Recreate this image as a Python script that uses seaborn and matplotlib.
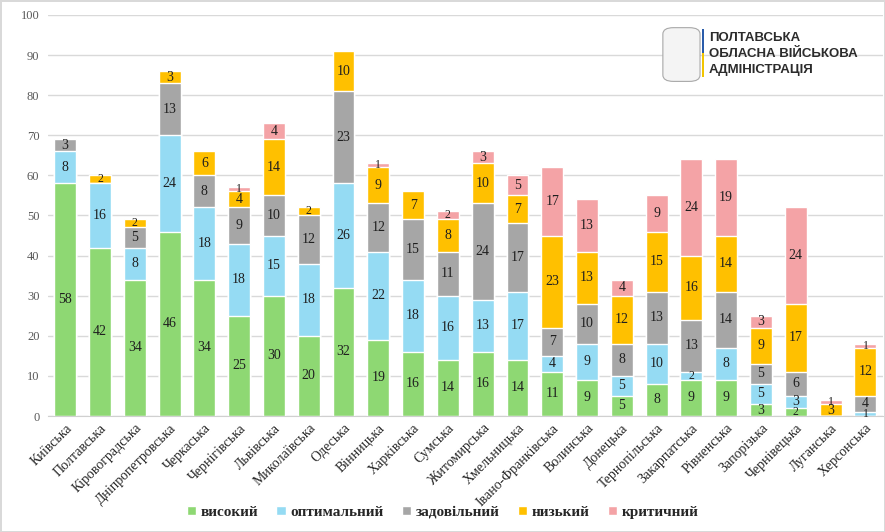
import numpy as np
import pandas as pd
import seaborn as sns
import matplotlib.pyplot as plt
from matplotlib.patches import FancyBboxPatch, Rectangle

regions = ["Київська", "Полтавська", "Кіровоградська", "Дніпропетровська", "Черкаська",
           "Чернігівська", "Львівська", "Миколаївська", "Одеська", "Вінницька",
           "Харківська", "Сумська", "Житомирська", "Хмельницька", "Івано-Франківська",
           "Волинська", "Донецька", "Тернопільська", "Закарпатська", "Рівненська",
           "Запорізька", "Чернівецька", "Луганська", "Херсонська"]

vysokyi = [58, 42, 34, 46, 34, 25, 30, 20, 32, 19, 16, 14, 16, 14, 11, 9, 5, 8, 9, 9, 3, 2, 0, 0]
optymalnyi = [8, 16, 8, 24, 18, 18, 15, 18, 26, 22, 18, 16, 13, 17, 4, 9, 5, 10, 2, 8, 5, 3, 0, 1]
zadovilnyi = [3, 0, 5, 13, 8, 9, 10, 12, 23, 12, 15, 11, 24, 17, 7, 10, 8, 13, 13, 14, 5, 6, 0, 4]
nyzkyi = [0, 2, 2, 3, 6, 4, 14, 2, 10, 9, 7, 8, 10, 7, 23, 13, 12, 15, 16, 14, 9, 17, 3, 12]
krytychnyi = [0, 0, 0, 0, 0, 1, 4, 0, 0, 1, 0, 2, 3, 5, 17, 13, 4, 9, 24, 19, 3, 24, 1, 1]

levels = ["високий", "оптимальний", "задовільний", "низький", "критичний"]
colors = ["#8ed873", "#95dbf3", "#a6a6a6", "#ffc000", "#f4a3a6"]

values = np.array([vysokyi, optymalnyi, zadovilnyi, nyzkyi, krytychnyi])
cum = values.cumsum(axis=0)

fig = plt.figure(figsize=(8.85, 5.32), dpi=100)
sns.set_style("white")
plt.rcParams['font.family'] = ['Liberation Serif', 'DejaVu Serif']
fig.patch.set_edgecolor("#d9d9d9")
fig.patch.set_linewidth(2)

ax = fig.add_axes([0.054, 0.218, 0.9435, 0.754])

# stacked bars: draw the tallest cumulative layer first, then cover it
for i in range(len(levels) - 1, -1, -1):
    df = pd.DataFrame({"region": regions, "value": cum[i]})
    sns.barplot(data=df, x="region", y="value", color=colors[i], width=0.63,
                saturation=1, ax=ax, zorder=2, label=levels[i])
if ax.get_legend() is not None:
    ax.get_legend().remove()

# value labels (thin segments get a slightly smaller number)
for i in range(len(levels)):
    for j in range(len(regions)):
        v = values[i, j]
        if v == 0:
            continue
        ax.text(j, cum[i, j] - v / 2, str(v), ha="center", va="center",
                fontsize=10 if v > 2 else 8.5, color="#1f1f1f", zorder=3)

ax.set_ylim(0, 100)
ax.set_xlim(-0.5, len(regions) - 0.5)
ax.set_yticks(range(0, 101, 10))
ax.yaxis.grid(True, color="#d9d9d9", linewidth=1, zorder=0)
ax.set_axisbelow(True)
ax.set_xlabel("")
ax.set_ylabel("")
for s in ["top", "right", "left"]:
    ax.spines[s].set_visible(False)
ax.spines["bottom"].set_color("#d0d0d0")
ax.tick_params(axis="y", length=0, labelsize=9, labelcolor="#595959", pad=6)
ax.tick_params(axis="x", length=0, labelsize=10, labelcolor="#262626", pad=4)
plt.setp(ax.get_xticklabels(), rotation=45, ha="right", rotation_mode="anchor")

# legend
handles, labels = ax.get_legend_handles_labels()
order = [labels.index(l) for l in levels]
fig.legend([handles[k] for k in order], levels, loc="center", bbox_to_anchor=(0.5, 0.037),
           ncol=5, frameon=False, handlelength=0.6, handleheight=0.6, handletextpad=0.3,
           columnspacing=1.2, prop={"weight": "bold", "size": 11})

# logo block
fig.patches.append(FancyBboxPatch((0.752, 0.85), 0.036, 0.095, boxstyle="round,pad=0.003,rounding_size=0.012",
                                  transform=fig.transFigure, facecolor="#f4f4f4",
                                  edgecolor="#a8a8a8", linewidth=0.8))
fig.patches.append(Rectangle((0.7935, 0.9), 0.0025, 0.045, transform=fig.transFigure,
                             facecolor="#2a5caa", edgecolor="none"))
fig.patches.append(Rectangle((0.7935, 0.855), 0.0025, 0.045, transform=fig.transFigure,
                             facecolor="#f2c500", edgecolor="none"))
for k, line in enumerate(["ПОЛТАВСЬКА", "ОБЛАСНА ВІЙСЬКОВА", "АДМІНІСТРАЦІЯ"]):
    fig.text(0.801, 0.928 - k * 0.03, line, ha="left", va="center", fontsize=9.5,
             fontweight="bold", color="#2b2b2b", family=["Liberation Sans"])

fig.savefig("out.png", dpi=100)
